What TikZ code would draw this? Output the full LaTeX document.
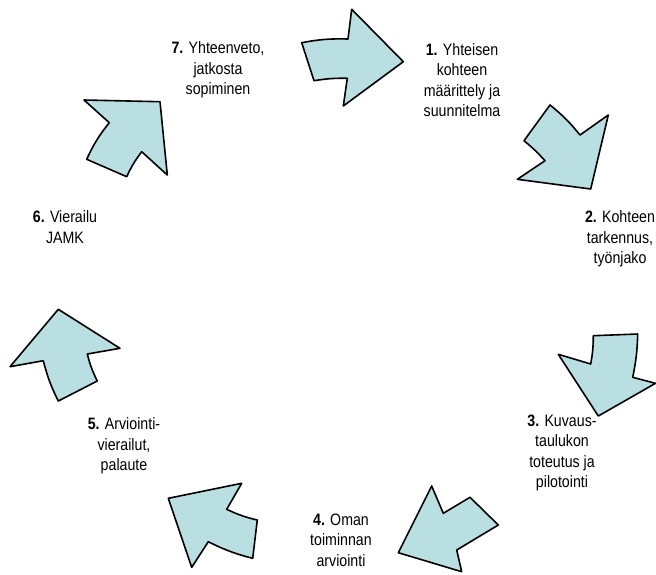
\documentclass[tikz,border=0pt]{standalone}
\usepackage{fontspec}
\setmainfont{Liberation Sans}[FakeStretch=0.86]
\definecolor{arrowfill}{RGB}{185,223,227}
\tikzset{
    cyclearrow/.style={draw=black, fill=arrowfill, line width=1.6pt, line join=round},
    steplabel/.style={align=center, inner sep=0pt, font=\fontsize{16.5}{20.5}\selectfont},
}
\begin{document}
\begin{tikzpicture}[x=1pt, y=-1pt]
        % page frame (pixel coordinates, y downwards)
        \useasboundingbox (0,0) rectangle (656,574);

        % arrows of the cycle, clockwise from the top
        % 1 -> right
        \draw[cyclearrow] (301.7,42.7) to[bend left=6] (348,39) -- (351.7,9.3) -- (403.3,61.7)
            -- (343.3,106) -- (347.3,78.3) to[bend right=5] (314,80.7) -- cycle;
        % 2 -> down right
        \draw[cyclearrow] (550,105) to[bend left=6] (580,135) -- (608.3,115) -- (590.7,189)
            -- (517.3,179.3) -- (545,160.7) to[bend right=4] (524,140.7) -- cycle;
        % 3 -> down left
        \draw[cyclearrow] (593.3,335.7) -- (637.7,334) to[bend left=5] (632.7,377.3) -- (655.5,383.3)
            -- (598.3,416) -- (558.3,354.3) -- (590.7,364) to[bend right=5] cycle;
        % 4 -> left
        \draw[cyclearrow] (398.3,552.7) -- (431.7,486) -- (443.3,513.3) -- (470,497.3)
            -- (498.3,525) -- (456.7,550) -- (461.7,571.7) -- cycle;
        % 5 -> up left
        \draw[cyclearrow] (168.3,498.3) -- (241.7,483.3) -- (226.7,509.3) to[bend right=6] (257.3,520)
            -- (252.7,558.3) to[bend left=6] (208.3,541.7) -- (191.7,567.3) -- cycle;
        % 6 -> up
        \draw[cyclearrow] (58.3,309.3) -- (120,348.3) -- (87.3,354) to[bend right=6] (97.3,381)
            -- (58.3,401) to[bend left=6] (43.3,360.7) -- (10,366.7) -- cycle;
        % 7 -> up right
        \draw[cyclearrow] (160,101.7) -- (84,100) -- (109.3,122.7) to[bend right=7] (86.7,159.3)
            -- (126.7,176.7) to[bend left=6] (141.7,151.7) -- (167.3,175) -- cycle;

        % step texts
        \node[steplabel] (s1) at (462,80)  {\textbf{1.} Yhteisen\\kohteen\\määrittely ja\\suunnitelma};
        \node[steplabel] (s2) at (620,239) {\textbf{2.} Kohteen\\tarkennus,\\työnjako};
        \node[steplabel] (s3) at (562,453) {\textbf{3.} Kuvaus-\\taulukon\\toteutus ja\\pilotointi};
        \node[steplabel] (s4) at (341,540) {\textbf{4.} Oman\\toiminnan\\arviointi};
        \node[steplabel] (s5) at (124,446) {\textbf{5.} Arviointi-\\vierailut,\\palaute};
        \node[steplabel] (s6) at (65,227)  {\textbf{6.} Vierailu\\JAMK};
        \node[steplabel] (s7) at (218,70)  {\textbf{7.} Yhteenveto,\\jatkosta\\sopiminen};
    \end{tikzpicture}
\end{document}
